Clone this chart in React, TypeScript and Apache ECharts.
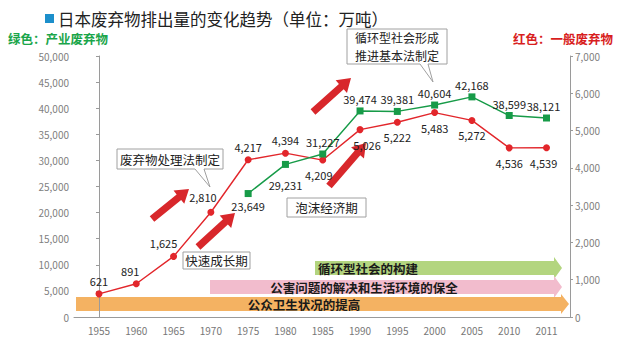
import React, { useEffect, useRef } from "react";
import * as echarts from "echarts";

const categories = ["1955", "1960", "1965", "1970", "1975", "1980", "1985", "1990", "1995", "2000", "2005", "2010", "2011"];
const generalWaste = [621, 891, 1625, 2810, 4217, 4394, 4209, 5026, 5222, 5483, 5272, 4536, 4539];
const industrialWaste = [null, null, null, null, 23649, 29231, 31227, 39474, 39381, 40604, 42168, 38599, 38121];
const leftAxis = { min: 0, max: 50000, interval: 5000 };
const rightAxis = { min: 0, max: 7000, interval: 1000 };
const titleText = "日本废弃物排出量的变化趋势（单位：万吨）";
const greenLegend = "绿色：产业废弃物";
const redLegend = "红色：一般废弃物";
const bands = ["循环型社会的构建", "公害问题的解决和生活环境的保全", "公众卫生状况的提高"];
const notes = ["循环型社会形成", "推进基本法制定", "废弃物处理法制定", "泡沫经济期", "快速成长期"];

const FONT = '"Noto Sans CJK SC", "Noto Sans", sans-serif';
const RED = "#e2262b";
const GREEN = "#179b48";
const ARROW_RED = "#d8272b";

function fmt(v: number) {
  return v.toLocaleString("en-US");
}

function arrowPts(x1: number, y1: number, x2: number, y2: number, sw = 3.6, hw = 8.5, hl = 13) {
  const dx = x2 - x1, dy = y2 - y1;
  const len = Math.hypot(dx, dy);
  const ux = dx / len, uy = dy / len;
  const nx = -uy, ny = ux;
  const bx = x2 - ux * hl, by = y2 - uy * hl;
  return [
    [x1 + nx * sw, y1 + ny * sw],
    [bx + nx * sw, by + ny * sw],
    [bx + nx * hw, by + ny * hw],
    [x2, y2],
    [bx - nx * hw, by - ny * hw],
    [bx - nx * sw, by - ny * sw],
    [x1 - nx * sw, y1 - ny * sw],
  ];
}

function hArrow(x1: number, x2: number, yTop: number, yBot: number, headLen: number, flare: number) {
  const xb = x2 - headLen;
  const ym = (yTop + yBot) / 2;
  return [
    [x1, yTop], [xb, yTop], [xb, yTop - flare], [x2, ym], [xb, yBot + flare], [xb, yBot], [x1, yBot],
  ];
}

export default function App() {
  const ref = useRef<HTMLDivElement>(null);
  useEffect(() => {
    if (!ref.current) return;
    const chart = echarts.init(ref.current, null, { renderer: "svg" });

    const redData = generalWaste.map((v, i) => {
      const item: any = { value: [i, v] };
      if (i <= 5) {
        const offs: Record<number, number[]> = { 1: [-6, 0], 2: [-10, 0], 3: [-8, -2] };
        item.label = { position: "top", distance: 4, offset: offs[i] || [0, 0] };
      } else {
        const offs: Record<number, number[]> = { 7: [7, 0], 6: [-4, 0], 12: [-3, 0] };
        item.label = { position: "bottom", distance: 6, offset: offs[i] || [0, 0] };
      }
      return item;
    });
    const greenData = industrialWaste.map((v, i) => {
      if (v == null) return { value: [i, null] };
      const item: any = { value: [i, v] };
      if (i === 4) item.label = { position: "bottom", distance: 3 };
      else if (i === 5) item.label = { position: "bottom", distance: 12 };
      else item.label = { position: "top", distance: 3, offset: i === 12 ? [-3, 0] : [0, 0] };
      return item;
    });

    const noteFont = `12.5px ${FONT}`;
    const bandFont = `bold 12.5px ${FONT}`;
    const boxStyle = { fill: "#fff", stroke: "#a0a0a0", lineWidth: 1 };
    const labelCommon = { show: true, color: "#222", fontSize: 11, fontFamily: FONT };

    const option: any = {
      animation: false,
      backgroundColor: "#fff",
      textStyle: { fontFamily: FONT },
      grid: { left: 74, right: 50, top: 56, bottom: 42 },
      xAxis: {
        type: "value",
        min: -0.67,
        max: 12.63,
        axisLine: { show: true, lineStyle: { color: "#9a9a9a", width: 1 } },
        axisTick: { show: false },
        splitLine: { show: false },
        axisLabel: {
          customValues: categories.map((_, i) => i),
          formatter: (v: number) => categories[Math.round(v)] ?? "",
          color: "#777",
          fontSize: 10,
          margin: 8,
          fontFamily: FONT,
        },
      },
      yAxis: [
        {
          type: "value",
          min: leftAxis.min,
          max: leftAxis.max,
          interval: leftAxis.interval,
          axisLine: { show: true, lineStyle: { color: "#9a9a9a" } },
          axisTick: { show: true, length: 3, lineStyle: { color: "#9a9a9a" } },
          splitLine: { show: false },
          axisLabel: { formatter: (v: number) => fmt(v), color: "#808080", fontSize: 10, margin: 5, fontFamily: FONT },
        },
        {
          type: "value",
          position: "right",
          min: rightAxis.min,
          max: rightAxis.max,
          interval: rightAxis.interval,
          axisLine: { show: true, lineStyle: { color: "#9a9a9a" } },
          axisTick: { show: true, length: 3, lineStyle: { color: "#9a9a9a" } },
          splitLine: { show: false },
          axisLabel: { formatter: (v: number) => fmt(v), color: "#808080", fontSize: 10, margin: 5, fontFamily: FONT },
        },
      ],
      series: [
        {
          name: "一般废弃物",
          type: "line",
          yAxisIndex: 1,
          data: redData,
          symbol: "circle",
          symbolSize: 7,
          itemStyle: { color: RED },
          lineStyle: { color: RED, width: 1.4 },
          label: { ...labelCommon, formatter: (p: any) => fmt(p.value[1]) },
          z: 5,
        },
        {
          name: "产业废弃物",
          type: "line",
          yAxisIndex: 0,
          data: greenData,
          symbol: "rect",
          symbolSize: 7,
          connectNulls: false,
          itemStyle: { color: GREEN },
          lineStyle: { color: GREEN, width: 1.4 },
          label: { ...labelCommon, formatter: (p: any) => (p.value[1] == null ? "" : fmt(p.value[1])) },
          z: 5,
        },
      ],
      graphic: [
        { type: "rect", shape: { x: 45, y: 14, width: 9, height: 9 }, style: { fill: "#1c8fcb" } },
        { type: "text", x: 58, y: 18.5, style: { text: titleText, font: `16.5px ${FONT}`, fill: "#222", verticalAlign: "middle" } },
        { type: "text", x: 8, y: 38, style: { text: greenLegend, font: `bold 12.5px ${FONT}`, fill: "#1aa54a", verticalAlign: "middle" } },
        { type: "text", x: 613, y: 38, style: { text: redLegend, font: `bold 12.5px ${FONT}`, fill: "#d81e1e", align: "right", verticalAlign: "middle" } },

        // horizontal bands
        { type: "polygon", shape: { points: hArrow(315, 562, 261, 275, 8, 4) }, style: { fill: "#b3d57f" } },
        { type: "text", x: 318, y: 268, style: { text: bands[0], font: bandFont, fill: "#1a1a1a", verticalAlign: "middle" } },
        { type: "polygon", shape: { points: hArrow(210, 562, 280, 294, 8, 4) }, style: { fill: "#f2bccd" } },
        { type: "text", x: 364, y: 287, style: { text: bands[1], font: bandFont, fill: "#1a1a1a", align: "center", verticalAlign: "middle" } },
        { type: "polygon", shape: { points: hArrow(76, 569, 297, 311, 8, 3) }, style: { fill: "#f4b262" } },
        { type: "text", x: 304, y: 304, style: { text: bands[2], font: bandFont, fill: "#1a1a1a", align: "center", verticalAlign: "middle" } },

        // red arrows
        { type: "polygon", shape: { points: arrowPts(152, 219, 189, 189) }, style: { fill: ARROW_RED } },
        { type: "polygon", shape: { points: arrowPts(198, 247, 235, 213) }, style: { fill: ARROW_RED } },
        { type: "polygon", shape: { points: arrowPts(313, 112, 351, 78) }, style: { fill: ARROW_RED } },
        { type: "polygon", shape: { points: arrowPts(329, 186, 366, 143) }, style: { fill: ARROW_RED } },

        // callouts
        {
          type: "polygon", z: 100,
          shape: { points: [[347, 29], [447, 29], [447, 64], [428, 64], [433, 82], [420, 64], [347, 64]] },
          style: boxStyle,
        },
        { type: "text", z: 101, x: 397, y: 37.5, style: { text: notes[0], font: `12px ${FONT}`, fill: "#222", align: "center", verticalAlign: "middle" } },
        { type: "text", z: 101, x: 397, y: 55.5, style: { text: notes[1], font: `12px ${FONT}`, fill: "#222", align: "center", verticalAlign: "middle" } },
        {
          type: "polygon", z: 100,
          shape: { points: [[117, 149], [223, 149], [223, 169], [204, 169], [210, 187], [195, 169], [117, 169]] },
          style: boxStyle,
        },
        { type: "text", z: 101, x: 170, y: 159, style: { text: notes[2], font: noteFont, fill: "#222", align: "center", verticalAlign: "middle" } },
        { type: "rect", z: 100, shape: { x: 287, y: 198, width: 79, height: 19 }, style: boxStyle },
        { type: "text", z: 101, x: 326.5, y: 207.5, style: { text: notes[3], font: noteFont, fill: "#222", align: "center", verticalAlign: "middle" } },
        { type: "rect", z: 100, shape: { x: 183, y: 252, width: 67, height: 17 }, style: boxStyle },
        { type: "text", z: 101, x: 216.5, y: 260.5, style: { text: notes[4], font: noteFont, fill: "#222", align: "center", verticalAlign: "middle" } },
      ],
    };
    chart.setOption(option);
    return () => chart.dispose();
  }, []);
  return <div ref={ref} style={{ position: "fixed", left: 0, top: 0, width: 620, height: 359 }} />;
}
